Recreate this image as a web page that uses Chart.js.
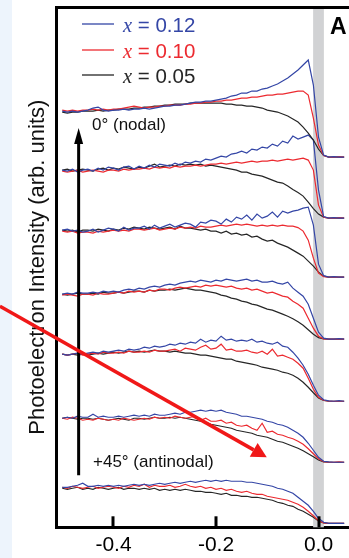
<!DOCTYPE html>
<html>
<head>
<meta charset="utf-8">
<title>EDC stack</title>
<script src="https://cdn.jsdelivr.net/npm/chart.js@4.4.0/dist/chart.umd.min.js"></script>
<style>
html, body { margin: 0; padding: 0; overflow: hidden; }
body { width: 349px; height: 558px; background: linear-gradient(to right, #edf4fc 0, #edf4fc 12px, #ffffff 12px); }
canvas { display: block; }
</style>
</head>
<body>
<canvas id="edcChart" width="349" height="558"></canvas>
<script>
// binding energy grid (eV), same for every cut
const energy = [-0.50,-0.49,-0.48,-0.47,-0.46,-0.45,-0.44,-0.43,-0.42,-0.41,
  -0.40,-0.39,-0.38,-0.37,-0.36,-0.35,-0.34,-0.33,-0.32,-0.31,
  -0.30,-0.29,-0.28,-0.27,-0.26,-0.25,-0.24,-0.23,-0.22,-0.21,
  -0.20,-0.19,-0.18,-0.17,-0.16,-0.15,-0.14,-0.13,-0.12,-0.11,
  -0.10,-0.09,-0.08,-0.07,-0.06,-0.05,-0.04,-0.03,-0.02,-0.01,
  0.00,0.01,0.02,0.03,0.04,0.05];

// vertical offset of each cut, nodal (top) to antinodal (bottom)
const cutOffsets = [370, 309, 250, 188, 126, 65, 4];

const dopings = ['0.12', '0.10', '0.05'];
const lineColors = ['#3446a6', '#ec2a30', '#262626'];
const xTicks = [-0.4, -0.2, 0.0];

// cut 1 : 0 deg (nodal)
const cut1_x12 = [46,45,46,45,46, 47,49,50,47,46, 47,47,48,47,48, 48,49,48,49,50, 51,51,52,52,53, 54,55,55,56,56, 57,58,59,61,62, 64,64,66,66,68, 69,71,73,76,79, 83,87,92,97,72, 20,2,0,0.5,0,0];
const cut1_x10 = [47,46,47,46,47, 47,48,47,48,47, 48,48,49,50,51, 50,49,50,50,51, 51,52,52,52,53, 53,54,54,55,55, 56,56,57,57,58, 59,59,60,60,61, 62,62,63,63,64, 65,66,66,62,39, 12,1.5,0,0,0.5,0];
const cut1_x05 = [45,44,45,45,46, 46,46,47,46,47, 47,48,48,48,49, 49,50,50,51,51, 52,52,53,53,53, 54,54,54,54,54, 54,54,53,53,52, 52,51,51,50,49, 47,46,45,43,41, 38,35,30,24,17, 8,1.5,0,0,0,0];

const cut2_x12 = [48,47,49,46,48, 49,47,50,48,51, 50,48,51,52,49, 52,50,53,51,54, 53,52,55,53,56, 55,57,56,59,58, 60,62,61,64,65, 67,65,69,68,71, 70,74,72,77,75, 82,79,81,83,78, 28,1.5,0,0.5,0,0];
const cut2_x10 = [47,46,47,48,46, 47,48,47,46,48, 48,47,49,48,49, 49,50,49,51,50, 51,50,52,51,52, 52,53,52,53,54, 54,55,54,55,56, 55,56,57,56,57, 57,58,57,58,59, 58,59,60,58,48, 13,1,0,0,0.5,0];
const cut2_x05 = [48,49,47,48,49, 48,47,49,50,48, 50,49,51,50,49, 51,50,52,54,51, 52,53,52,54,53, 54,53,54,52,53, 52,51,50,49,48, 46,46,44,43,42, 40,38,36,35,32, 28.5,25.5,22,16,9.5, 4,1,0,0,0,0];

const cut3_x12 = [47,48,46,47,45, 46,48,45,47,49, 48,46,50,47,49, 49,51,48,52,49, 51,53,50,52,54, 53,50,55,54,57, 56,53,58,55,60, 58,62,57,63,59, 61,65,60,66,64, 66,67,69,70,52, 13,1.5,0,0.5,0,0];
const cut3_x10 = [46,45,46,44,45, 45,44,46,45,46, 47,46,47,46,48, 48,47,48,49,47, 48,49,48,50,49, 50,49,51,50,50, 51,52,51,52,53, 52,53,52,51,52, 51,52,51,52,51, 51,49.5,46,37,19, 4,0.5,0,0,0,0];
const cut3_x05 = [47,46,47,45,47, 47,46,48,47,46, 48,47,49,48,50, 49,48,50,49,48, 49,50,48,51,49, 49,48,47,48,46, 46,44,46,43,44, 42,43,40,41,38, 36,37,34,32,30, 27,24,21,16,11, 5,1,0,0,0,0];

const cut4_x12 = [45,46,45,47,46, 46,47,46,48,47, 48,47,49,50,49, 51,50,52,53,52, 54,55,54,56,57, 58,57,59,58,57, 59,58,60,59,58, 59,60,58,59,57, 57,58,56,55,57, 51,47,43,35,21, 7,1,0,0,0.5,0];
const cut4_x10 = [44,45,44,43,45, 45,44,46,45,45, 46,47,46,48,47, 48,47,49,48,50, 50,49,51,52,51, 52,53,52,54,53, 54,53,52,53,51, 50,51,49,50,48, 46,47,45,43,42, 38,35,31,21,11, 3,0.3,0,0,0,0];
const cut4_x05 = [45,44,45,46,45, 45,46,45,47,46, 46,47,46,47,48, 48,47,49,48,49, 49,50,49,50,51, 50,49,49,48,47, 46,44,43,41,40, 38,37,35,34,32, 30,29,27,25,23, 20.5,17.5,14,9.5,5, 1.5,0.2,0,0,0,0];

const cut5_x12 = [47,46,47,48,47, 48,49,48,50,49, 50,51,50,52,51, 52,54,53,55,54, 55,57,56,58,57, 59,58,62,59,61, 60,65,61,62,60, 61,60,62,59,60, 58,57,59,55,54, 49,43,36,27,16, 6,1.5,0.3,0,0.5,0];
const cut5_x10 = [47,46,47,48,46, 47,48,47,49,48, 48,49,48,50,49, 49,50,49,51,50, 50,51,52,50,53, 52,51,54,56,52, 53,57,51,52,50, 50,51,49,48,50, 47,52,45,46,44, 42,38,33,23,12, 4,1,0,0,0,0];
const cut5_x05 = [47,46,47,46,47, 46,47,48,47,48, 49,48,49,50,49, 50,49,50,51,50, 50,49,50,49,48, 48,47,46,46,45, 44,43,42,42,40, 39,38,37,36,34, 33,32,31,29,28, 26,23,19,14,8.5, 3.3,0.7,0,0,0,0];

const cut6_x12 = [44,45,44,46,45, 45,48,45,46,45, 45,46,45,46,47, 46,47,46,48,47, 47,48,49,48,50, 50,51,52,51,52, 51,52,50,49,48, 46,46,45,44,43, 41,40,38,37,35, 32,29,25,19,12, 5,1,0.3,0,0,0];
const cut6_x10 = [44,43,45,44,42, 43,42,44,43,42, 43,42,44,43,42, 43,44,43,45,44, 45,44,46,45,44, 45,46,42,44,41, 41,42,39,40,37, 36,37,34,32,39, 30,31,28,27,25, 23.5,21,18,13.5,8.5, 3.5,0.7,0,0,0.5,0];
const cut6_x05 = [44,45,44,43,44, 44,43,44,43,42, 43,44,43,42,44, 44,43,44,45,44, 44,45,44,45,44, 43,42,41,40,38, 37,36,35,34,32, 31,30,29,27,26, 25,23,21,20,18, 16,14,11.5,8.5,5.5, 2.3,0.3,0,0,0,0];

// cut 7 : +45 deg (antinodal)
const cut7_x12 = [36,36,37,38,40, 37,37,38,37,38, 37,38,37,38,39, 38,39,38,39,40, 39,40,41,40,41, 42,41,42,43,42, 43,42,43,42,42, 42,41,41,40,39, 38,37,35,34,32, 30,26,22,18,12, 5,1,0,0,0,0];
const cut7_x10 = [36,35,37,36,35, 36,37,35,36,37, 36,35,37,36,38, 37,39,36,38,37, 37,38,36,37,39, 37,36,37,35,36, 34,35,33,34,32, 31,32,30,29,29, 27,26,25,24,23, 21,19,16,12,7.5, 2.5,0.3,0,0,0,0];
const cut7_x05 = [35,34,35,36,34, 35,34,36,35,34, 35,36,34,35,35, 34,35,34,35,33, 34,33,34,33,34, 33,32,32,31,31, 30,29,30,28,28, 27,27,26,26,25, 24,23,21,20,18, 17,14,12,9,6, 2.3,0.5,0,0,0,0];

const cuts = [
  [cut1_x12, cut1_x10, cut1_x05],
  [cut2_x12, cut2_x10, cut2_x05],
  [cut3_x12, cut3_x10, cut3_x05],
  [cut4_x12, cut4_x10, cut4_x05],
  [cut5_x12, cut5_x10, cut5_x05],
  [cut6_x12, cut6_x10, cut6_x05],
  [cut7_x12, cut7_x10, cut7_x05]
];

const FONT = '"Liberation Sans", Arial, Helvetica, sans-serif';

var datasets = [];
for (var c = 0; c < cuts.length; c++) {
  for (var d = 0; d < 3; d++) {
    var series = cuts[c][d];
    var off = cutOffsets[c];
    datasets.push({
      label: 'x = ' + dopings[d],
      data: energy.map(function(e, i) { return {x: e, y: off + series[i]}; }),
      borderColor: lineColors[d],
      borderWidth: 1.2,
      pointRadius: 0,
      tension: 0,
      fill: false
    });
  }
}

function drawArrow(ctx, x0, y0, x1, y1, width, headLen, headHalf, color) {
  var ang = Math.atan2(y1 - y0, x1 - x0);
  var bx = x1 - headLen * Math.cos(ang), by = y1 - headLen * Math.sin(ang);
  ctx.strokeStyle = color;
  ctx.lineWidth = width;
  ctx.beginPath();
  ctx.moveTo(x0, y0);
  ctx.lineTo(bx, by);
  ctx.stroke();
  ctx.fillStyle = color;
  ctx.beginPath();
  ctx.moveTo(x1, y1);
  ctx.lineTo(bx + headHalf * Math.sin(ang), by - headHalf * Math.cos(ang));
  ctx.lineTo(bx - headHalf * Math.sin(ang), by + headHalf * Math.cos(ang));
  ctx.closePath();
  ctx.fill();
}

// gray band at E_F, frame top, inward ticks, legend and annotations
const decor = {
  id: 'decor',
  beforeDatasetsDraw(chart) {
    const {ctx, chartArea, scales} = chart;
    const x0 = scales.x.getPixelForValue(-0.0105);
    const x1 = scales.x.getPixelForValue(0.0105);
    ctx.save();
    ctx.fillStyle = '#d1d2d4';
    ctx.fillRect(x0, chartArea.top, x1 - x0, chartArea.bottom - chartArea.top);
    ctx.restore();
  },
  afterDraw(chart) {
    const {ctx, chartArea, scales} = chart;
    const xs = scales.x, ys = scales.y;
    ctx.save();
    ctx.fillStyle = '#000';
    // top edge of the frame
    ctx.fillRect(chartArea.left - 1.5, Math.round(chartArea.top) - 1, chartArea.right - chartArea.left + 3, 3);
    // tick marks pointing inward
    xTicks.forEach(function(v) {
      var px = Math.round(xs.getPixelForValue(v));
      ctx.fillRect(px - 1.5, chartArea.bottom - 11, 3, 11);
    });

    // legend
    var rows = [24, 50, 75];
    for (var d = 0; d < 3; d++) {
      ctx.strokeStyle = lineColors[d];
      ctx.lineWidth = 1.3;
      ctx.beginPath();
      ctx.moveTo(82, rows[d]);
      ctx.lineTo(114, rows[d]);
      ctx.stroke();
      ctx.fillStyle = lineColors[d];
      ctx.textBaseline = 'alphabetic';
      ctx.font = 'italic 20.5px "Liberation Serif", "Times New Roman", serif';
      ctx.fillText('x', 123, rows[d] + 7.5);
      var w = ctx.measureText('x').width;
      ctx.font = '20.5px ' + FONT;
      ctx.fillText(' = ' + dopings[d], 123 + w, rows[d] + 7.5);
    }

    // panel letter
    ctx.fillStyle = '#000';
    ctx.font = 'bold 23px ' + FONT;
    ctx.fillText('A', 330, 33.5);

    // cut labels
    ctx.fillStyle = '#111';
    ctx.font = '17px ' + FONT;
    ctx.fillText('0\u00b0 (nodal)', 92, 129.5);
    ctx.fillText('+45\u00b0 (antinodal)', 93, 466.5);

    // black arrow: antinodal -> nodal
    drawArrow(ctx, xs.getPixelForValue(-0.468), ys.getPixelForValue(52),
      xs.getPixelForValue(-0.468), ys.getPixelForValue(399), 3, 16, 4.5, '#000');
    // red arrow
    drawArrow(ctx, xs.getPixelForValue(-0.6215), ys.getPixelForValue(221),
      xs.getPixelForValue(-0.101), ys.getPixelForValue(70), 3.5, 15, 8, '#f01818');
    ctx.restore();
  }
};

let edcChart = new Chart(document.getElementById('edcChart').getContext('2d'), {
  type: 'line',
  data: { datasets: datasets },
  options: {
    responsive: false,
    animation: false,
    devicePixelRatio: 1,
    layout: { padding: { top: 7, left: 0, right: 0, bottom: 0 } },
    plugins: { legend: { display: false }, tooltip: { enabled: false } },
    scales: {
      x: {
        type: 'linear',
        min: -0.5112,
        max: 0.0595,
        afterBuildTicks: function(s) { s.ticks = xTicks.map(function(v) { return {value: v}; }); },
        afterFit: function(s) { s.height = 30.7; },
        ticks: {
          autoSkip: false,
          maxRotation: 0,
          padding: 5,
          color: '#000',
          font: { family: FONT, size: 21 },
          callback: function(v) { return Number(v).toFixed(1); }
        },
        grid: { display: true, drawOnChartArea: false, drawTicks: false, color: 'rgba(0,0,0,0)' },
        border: { display: true, width: 3, color: '#000' }
      },
      y: {
        type: 'linear',
        min: 0,
        max: 520,
        afterFit: function(s) { s.width = 56.5; },
        ticks: { display: false },
        grid: { display: true, drawOnChartArea: false, drawTicks: false, color: 'rgba(0,0,0,0)' },
        border: { display: true, width: 3, color: '#000' },
        title: {
          display: true,
          text: 'Photoelectron Intensity (arb. units)',
          color: '#111',
          font: { family: FONT, size: 22 },
          padding: { top: 25, bottom: 0 }
        }
      }
    }
  },
  plugins: [decor]
});
</script>
</body>
</html>
